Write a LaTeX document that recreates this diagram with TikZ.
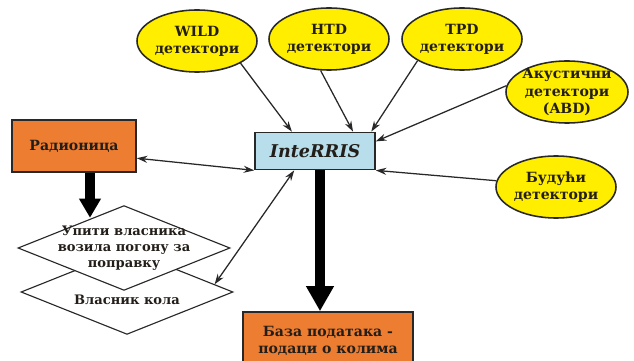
\documentclass[tikz,border=0pt]{standalone}
\usepackage{fontspec}
\setmainfont{DejaVu Serif}
\usetikzlibrary{shapes.geometric, arrows.meta, positioning, calc}
\definecolor{detyellow}{RGB}{255,238,0}
\definecolor{shoporange}{RGB}{237,125,49}
\definecolor{sysblue}{RGB}{183,222,234}
\definecolor{edgegray}{RGB}{40,40,40}
\definecolor{inkdark}{RGB}{35,30,25}

\tikzset{
  detector/.style={ellipse, draw=edgegray, line width=1.1pt, fill=detyellow,
    minimum width=3cm, minimum height=1.55cm, inner sep=-2pt, align=center,
    font=\fontsize{10}{12.3}\selectfont\bfseries, text=inkdark},
  orangebox/.style={rectangle, draw=edgegray, line width=1.1pt, fill=shoporange,
    align=center, inner sep=0pt, font=\fontsize{10}{12.3}\selectfont\bfseries, text=inkdark},
  decision/.style={diamond, draw=edgegray, line width=0.8pt, fill=white,
    inner sep=0pt, minimum width=5.3cm, minimum height=2.12cm},
  decisiontext/.style={align=center, inner sep=0pt,
    font=\fontsize{9.3}{11.4}\selectfont\bfseries, text=inkdark},
  link/.style={edgegray, line width=0.9pt, -{Stealth[length=7.5pt,width=5pt]}},
  twolink/.style={edgegray, line width=0.9pt, {Stealth[length=7.5pt,width=5pt]}-{Stealth[length=7.5pt,width=5pt]}},
  biglink/.style={black, line width=0.24cm},
}

\begin{document}
\begin{tikzpicture}[x=0.025cm, y=-0.025cm]
  \clip (0,0) rectangle (634,361);
  \fill[white] (0,0) rectangle (634,361);

  % detectors
  \node[detector] (wild) at (197,41) {WILD\\детектори};
  \node[detector] (htd) at (329,39) {HTD\\детектори};
  \node[detector] (tpd) at (462,39) {TPD\\детектори};
  \node[detector, minimum width=3.05cm] (abd) at (567,92) {Акустични\\детектори\\(ABD)};
  \node[detector] (future) at (556,187) {Будући\\детектори};

  % central system
  \node[rectangle, draw=edgegray, line width=1.1pt, fill=sysblue, minimum width=3cm,
    minimum height=0.93cm, font=\fontsize{12.5}{15}\selectfont\bfseries\itshape, text=inkdark]
    (inter) at (315,151) {InteRRIS};

  % shop and database
  \node[orangebox, minimum width=3.1cm, minimum height=1.3cm] (shop) at (74,146) {Радионица};
  \node[orangebox, minimum width=4.25cm, minimum height=1.45cm] (base) at (328,341)
    {База података -\\подаци о колима};

  % owner diamonds
  \node[decision, label={[decisiontext, yshift=-0.2cm]center:Власник кола}] (owner) at (127,292) {};
  \node[decision, label={[decisiontext]center:Упити власника\\возила погону за\\поправку}] (ask) at (124,248) {};

  % connectors
  \draw[link] (wild.-27) -- (inter.140);
  \draw[link] (htd.-105) -- (inter.27);
  \draw[link] (tpd.206) -- (inter.19);
  \draw[link] (abd.174) -- (inter.9);
  \draw[link] (future.174) -- (inter.south east);
  \draw[twolink] (shop.-11) -- (inter.south west);
  \draw[twolink] (owner.5) -- (inter.223);

  % thick flows
  \coordinate (shopout) at ([xshift=0.4cm]shop.south);
  \coordinate (interout) at ([xshift=0.125cm]inter.south);
  \draw[biglink, -{Triangle[length=0.48cm, width=0.52cm]}] (shopout) -- ++(0,45);
  \draw[biglink, -{Triangle[length=0.63cm, width=0.66cm]}] (interout) -- (interout |- base.north);
\end{tikzpicture}
\end{document}
